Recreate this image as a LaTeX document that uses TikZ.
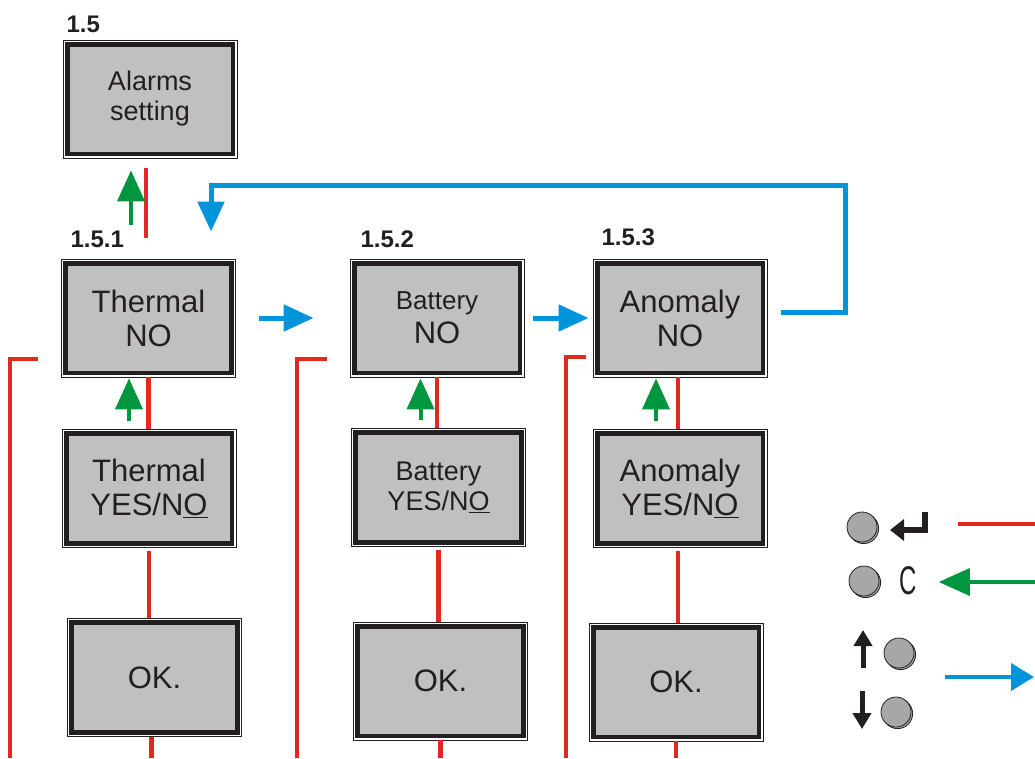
\documentclass[tikz,border=0pt]{standalone}
\usepackage{fontspec}
\setmainfont{Liberation Sans}
\usetikzlibrary{arrows.meta,shadows}
\definecolor{menured}{HTML}{DE2A22}
\definecolor{menugreen}{HTML}{00963F}
\definecolor{menublue}{HTML}{0095DA}
\definecolor{screengray}{HTML}{C0C0C0}
\definecolor{btngray}{HTML}{A7A7A7}
\definecolor{menutext}{HTML}{231F20}

\tikzset{
  screen/.style={draw=menutext, line width=0.8pt, fill=white, minimum width=174pt, minimum height=118pt,
    inner sep=0pt, align=center, text=menutext, font=\fontsize{31}{34}\selectfont,
    path picture={\draw[line width=4.6pt, draw=menutext, fill=screengray]
      ([shift={(4.2pt,4.2pt)}]path picture bounding box.south west) rectangle
      ([shift={(-4.2pt,-4.2pt)}]path picture bounding box.north east);}},
  menuno/.style={anchor=base west, text=menutext, font=\fontsize{24}{24}\bfseries\selectfont},
  enterline/.style={menured, line width=4.5pt},
  backline/.style={menugreen, line width=4pt, -{Triangle[length=31pt,width=27pt]}},
  nextline/.style={menublue, line width=5pt, -{Triangle[length=30pt,width=26pt]}},
  button/.style={circle, draw=menutext, line width=0.8pt, fill=btngray, minimum size=30pt, inner sep=0pt,
    copy shadow={shadow xshift=1.6pt, shadow yshift=-1.6pt}}
}

\begin{document}
\begin{tikzpicture}[x=1pt, y=-1pt]
\useasboundingbox (0,0) rectangle (1035,758);

\node[screen, font=\fontsize{27}{30}\selectfont] (alarms) at (150,99) {Alarms\\setting};
\node[menuno] (n15) at (63,32) {1.5};

\node[screen] (thermal) at (148.5,318) {Thermal\\NO};
\node[screen] (thermalset) at (149,488.5) {Thermal\\YES/N\underline{O}};
\node[screen] (thermalok) at (154.5,677.5) {OK.};
\node[menuno] (n151) at (67,247) {1.5.1};

\node[screen] (battery) at (437,318) {{\fontsize{26}{30}\selectfont Battery}\\NO};
\node[screen, font=\fontsize{27}{30}\selectfont] (batteryset) at (438.5,487.5) {Battery\\YES/N\underline{O}};
\node[screen] (batteryok) at (440.5,681) {OK.};
\node[menuno] (n152) at (357,247) {1.5.2};

\node[screen] (anomaly) at (680,318) {Anomaly\\NO};
\node[screen] (anomalyset) at (680,488.5) {Anomaly\\YES/N\underline{O}};
\node[screen] (anomalyok) at (676,682) {OK.};
\node[menuno] (n153) at (598,245) {1.5.3};

\coordinate (bottom) at (0,758);

% enter
\draw[enterline, shorten <=10pt, shorten >=21pt] ([xshift=-4pt]alarms.south) -- ([xshift=-4pt]alarms.south |- thermal.north);
\draw[enterline] (thermal.south) -- (thermal.south |- thermalset.north);
\draw[enterline, shorten <=3pt] (thermalset.south) -- (thermalset.south |- thermalok.north);
\draw[enterline] ([xshift=-3pt]thermalok.south) -- ([xshift=-3pt]thermalok.south |- bottom);
\draw[enterline] (battery.south) -- (battery.south |- batteryset.north);
\draw[enterline, shorten <=3pt] (batteryset.south) -- (batteryset.south |- batteryok.north);
\draw[enterline] (batteryok.south) -- (batteryok.south |- bottom);
\draw[enterline] ([xshift=-2pt]anomaly.south) -- ([xshift=-2pt]anomaly.south |- anomalyset.north);
\draw[enterline, shorten <=3pt] ([xshift=-2pt]anomalyset.south) -- ([xshift=-2pt]anomalyset.south |- anomalyok.north);
\draw[enterline] (anomalyok.south) -- (anomalyok.south |- bottom);

\coordinate (ret1) at (38,359);
\coordinate (ret2) at (327,359);
\coordinate (ret3) at (586,357);
\draw[enterline, line width=4pt] (10,758) |- (ret1);
\draw[enterline, line width=4pt] (297,758) |- (ret2);
\draw[enterline, line width=4pt] (566,758) |- (ret3);

% back
\draw[backline, shorten <=34pt, shorten >=12pt] ([xshift=-19pt]alarms.south |- thermal.north) -- ([xshift=-19pt]alarms.south);
\draw[backline, shorten <=8pt, shorten >=1pt] ([xshift=-20pt]thermalset.north) -- ([xshift=-20pt]thermalset.north |- thermal.south);
\draw[backline, shorten <=8pt, shorten >=1pt] ([xshift=-18pt]batteryset.north) -- ([xshift=-18pt]batteryset.north |- battery.south);
\draw[backline, shorten <=8pt, shorten >=1pt] ([xshift=-24pt]anomalyset.north) -- ([xshift=-24pt]anomalyset.north |- anomaly.south);

% next
\draw[nextline, shorten <=23pt, shorten >=36pt] (thermal.east) -- (battery.west);
\draw[nextline, shorten <=9pt, shorten >=4pt] (battery.east) -- (anomaly.west);
\draw[nextline, shorten <=14pt, shorten >=27pt] ([yshift=6pt]anomaly.east) -| (845,185) -| ([xshift=62.5pt]thermal.north);

% keys
\node[button] (kenter) at (862,527) {};
\node[button] (kback) at (864,581) {};
\node[button] (kup) at (899,653) {};
\node[button] (kdown) at (896,712) {};
\draw[menutext, line width=6pt, -{Triangle[length=14pt,width=21pt]}] (925,512) |- (890,530);
\node[text=menutext, xscale=0.6, font=\fontsize{40}{40}\selectfont] (cancel) at (908,581) {C};
\draw[menutext, line width=5pt, -{Triangle[length=16pt,width=18pt]}] ([xshift=-36pt]kup.center) ++(0,15) -- ++(0,-38);
\draw[menutext, line width=5pt, -{Triangle[length=16pt,width=18pt]}] ([xshift=-34pt]kdown.center) ++(0,-21) -- ++(0,38);

\coordinate (keyR) at (1035,524);
\coordinate (keyG) at (1035,582);
\coordinate (keyB) at (1034,677);
\draw[menured, line width=4pt] ([xshift=96pt]kenter.center |- keyR) -- (keyR);
\draw[backline, line width=3.5pt] (keyG) -- ([xshift=20pt]cancel.east |- keyG);
\draw[nextline, line width=4pt, -{Triangle[length=23pt,width=27pt]}] ([xshift=46pt]kup.center |- keyB) -- (keyB);

\end{tikzpicture}
\end{document}
